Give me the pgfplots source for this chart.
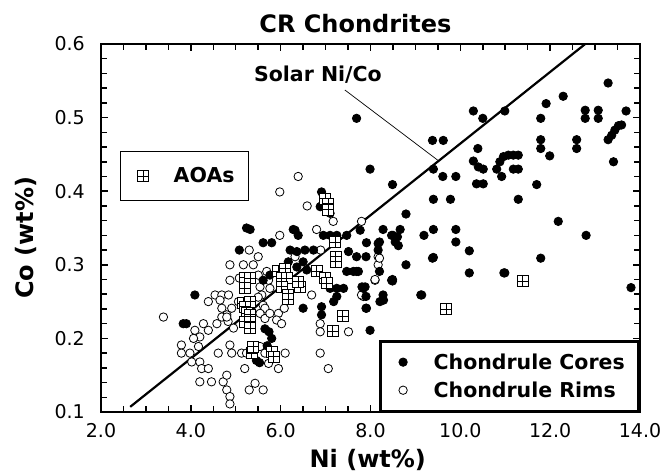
\documentclass[border=0pt]{standalone}
\usepackage{pgfplots}
\pgfplotsset{compat=1.18}
\usepackage{fontspec}
\setmainfont{DejaVu Sans}

\pgfdeclareplotmark{boxplus}{%
  \pgfpathrectangle{\pgfqpoint{-\pgfplotmarksize}{-\pgfplotmarksize}}{\pgfqpoint{2\pgfplotmarksize}{2\pgfplotmarksize}}%
  \pgfusepathqfillstroke
  \pgfpathmoveto{\pgfqpoint{-\pgfplotmarksize}{0pt}}\pgfpathlineto{\pgfqpoint{\pgfplotmarksize}{0pt}}%
  \pgfpathmoveto{\pgfqpoint{0pt}{-\pgfplotmarksize}}\pgfpathlineto{\pgfqpoint{0pt}{\pgfplotmarksize}}%
  \pgfusepathqstroke}

\pgfplotsset{
  crbase/.style={
    scale only axis, width=539pt, height=368pt,
    xmin=2, xmax=14, ymin=0.1, ymax=0.6,
    legend image code/.code={%
      \path[draw=none, fill=none] (0cm,-0.1cm) rectangle (0.6cm,0.1cm);
      \draw plot coordinates {(0.3cm,0cm)};},
  }
}

\pgfplotstableread{
x y
6.39 0.420
5.98 0.399
6.59 0.380
7.17 0.359
6.80 0.348
7.80 0.359
5.98 0.340
5.30 0.320
6.89 0.320
8.17 0.311
4.87 0.300
5.17 0.300
5.39 0.300
5.50 0.311
6.32 0.311
8.17 0.300
8.10 0.279
5.08 0.282
4.87 0.279
6.69 0.259
4.39 0.250
4.54 0.259
4.69 0.259
4.84 0.259
4.65 0.252
4.69 0.241
5.06 0.250
4.91 0.241
4.80 0.232
4.83 0.223
4.95 0.214
5.50 0.286
5.69 0.291
5.73 0.279
5.54 0.270
5.76 0.268
5.58 0.259
5.50 0.256
5.61 0.245
5.65 0.241
5.54 0.234
5.65 0.227
5.76 0.234
5.95 0.234
5.91 0.225
6.02 0.220
6.08 0.241
6.88 0.220
6.88 0.209
7.51 0.209
7.84 0.257
3.39 0.229
4.09 0.211
4.28 0.220
4.39 0.211
4.58 0.220
4.69 0.229
4.80 0.229
4.20 0.202
4.06 0.200
4.17 0.189
3.79 0.191
3.79 0.180
3.98 0.180
4.02 0.168
4.20 0.168
4.24 0.159
4.39 0.159
4.61 0.180
4.87 0.191
4.91 0.180
5.13 0.180
5.24 0.180
5.54 0.189
5.65 0.180
5.73 0.166
5.95 0.159
6.10 0.180
5.20 0.159
4.20 0.141
4.46 0.141
4.72 0.141
4.80 0.150
4.80 0.130
4.87 0.121
4.87 0.111
5.30 0.130
5.43 0.139
5.61 0.130
6.88 0.180
7.06 0.159
8.20 0.309
7.80 0.259
8.10 0.280
}\rims

\pgfplotstableread{
x y
7.69 0.499
7.99 0.430
8.49 0.409
8.79 0.369
9.38 0.469
9.62 0.469
9.40 0.430
9.61 0.420
9.90 0.420
9.40 0.389
9.78 0.389
10.29 0.509
10.50 0.499
10.99 0.509
10.39 0.458
10.29 0.441
10.40 0.433
10.51 0.430
10.36 0.410
10.51 0.410
10.81 0.430
10.92 0.420
10.88 0.440
10.96 0.447
11.07 0.449
11.18 0.449
11.29 0.449
11.18 0.430
11.29 0.430
11.29 0.389
11.70 0.409
11.79 0.499
11.91 0.519
12.29 0.529
11.79 0.470
11.79 0.458
11.99 0.448
12.18 0.359
12.59 0.470
12.59 0.458
12.78 0.510
12.78 0.499
13.07 0.510
13.07 0.499
13.29 0.547
13.69 0.509
13.29 0.470
13.37 0.476
13.44 0.483
13.52 0.489
13.59 0.490
13.41 0.440
12.80 0.340
13.80 0.269
9.38 0.309
10.20 0.319
10.20 0.289
10.99 0.289
11.79 0.309
9.14 0.259
9.90 0.348
9.90 0.331
9.19 0.340
9.40 0.348
8.79 0.300
8.49 0.280
8.66 0.348
8.60 0.338
8.55 0.331
8.62 0.326
8.50 0.340
8.28 0.348
8.20 0.331
7.91 0.330
7.77 0.347
7.69 0.311
7.90 0.311
7.69 0.291
7.62 0.291
8.20 0.291
7.88 0.270
7.81 0.270
8.28 0.259
8.21 0.250
7.99 0.211
7.90 0.241
6.88 0.379
6.91 0.399
6.91 0.380
7.10 0.370
5.24 0.350
5.32 0.348
6.32 0.347
6.39 0.340
6.28 0.348
6.95 0.340
7.10 0.340
7.25 0.340
7.47 0.340
8.47 0.340
5.61 0.330
5.80 0.330
5.08 0.320
6.21 0.320
6.36 0.318
6.54 0.320
6.73 0.320
7.51 0.318
8.17 0.329
8.17 0.320
6.58 0.293
7.47 0.291
7.73 0.291
8.47 0.279
7.84 0.268
7.90 0.257
8.29 0.252
7.25 0.268
7.40 0.268
7.25 0.257
7.18 0.250
4.09 0.259
6.50 0.241
6.91 0.243
6.91 0.232
7.91 0.241
3.83 0.220
3.90 0.220
5.65 0.213
5.74 0.209
5.80 0.200
5.70 0.190
5.46 0.170
5.53 0.167
6.17 0.304
6.36 0.297
6.50 0.304
5.61 0.279
5.76 0.286
7.10 0.268
9.12 0.259
10.97 0.289
8.49 0.278
9.40 0.310
}\cores

\pgfplotstableread{
x y
6.99 0.390
7.06 0.383
7.06 0.375
7.21 0.331
7.23 0.311
7.23 0.304
6.80 0.291
6.99 0.282
7.02 0.275
5.20 0.282
5.20 0.275
5.32 0.282
5.20 0.268
5.95 0.291
6.10 0.295
6.02 0.282
6.13 0.282
6.02 0.270
6.43 0.270
6.39 0.277
6.17 0.259
6.17 0.253
5.17 0.248
5.32 0.250
5.21 0.243
5.24 0.234
5.32 0.232
5.21 0.223
5.32 0.223
5.32 0.214
5.35 0.180
5.39 0.189
5.80 0.182
5.84 0.175
7.38 0.230
7.16 0.210
9.69 0.240
11.39 0.278
}\aoas

\begin{document}
\begin{tikzpicture}
\path[draw=none, fill=none] (-101pt,-63pt) rectangle (564pt,412pt);
\begin{axis}[crbase, hide axis,
  legend cell align=left,
  legend style={at={(0.0353,0.709)}, anchor=north west, draw=black, line width=1.3pt,
    inner xsep=14pt, inner ysep=16pt, column sep=22pt,
    nodes={inner sep=0pt},
    font=\fontsize{20.5}{20.5}\selectfont\bfseries},
]
\addplot[black, line width=2.2pt, forget plot] coordinates {(2.65,0.107) (12.78,0.6)};
\addplot[black, line width=0.7pt, forget plot] coordinates {(7.43,0.5375) (9.50,0.442)};
\node[font=\fontsize{20.5}{20.5}\selectfont\bfseries] at (axis cs:6.83,0.558) {Solar Ni/Co};
\addplot[only marks, mark=*, mark size=4.2pt, mark options={fill=white, draw=black, line width=0.8pt}, forget plot] table {\rims};
\addplot[only marks, mark=*, mark size=4.2pt, mark options={fill=black, draw=black, line width=0.8pt}, forget plot] table {\cores};
\addplot[only marks, mark=boxplus, mark size=5.5pt, mark options={fill=white, draw=black, line width=0.9pt}] table {\aoas};
\addlegendentry{AOAs}
\end{axis}
\begin{axis}[crbase,
  axis line style={line width=1.6pt},
  xtick={2,4,6,8,10,12,14}, ytick={0.1,0.2,0.3,0.4,0.5,0.6},
  minor x tick num=3, minor y tick num=4,
  major tick length=7pt, minor tick length=6pt,
  major tick style={black, line width=1.5pt},
  minor tick style={black, line width=1.5pt},
  ticklabel style={font=\fontsize{19}{19}\selectfont, inner sep=0pt},
  xticklabel style={yshift=-11pt},
  yticklabel style={xshift=-16pt},
  xticklabel={\pgfmathprintnumber[fixed,fixed zerofill,precision=1,assume math mode=true]{\tick}},
  yticklabel={\pgfmathprintnumber[fixed,fixed zerofill,precision=1,assume math mode=true]{\tick}},
  title={CR Chondrites},
  title style={font=\fontsize{24}{24}\selectfont\bfseries, at={(axis description cs:0.472,1.0163)}, anchor=base, inner sep=0pt},
  xlabel={Ni (wt\%)},
  xlabel style={font=\fontsize{24}{24}\selectfont\bfseries, at={(axis description cs:0.495,-0.152)}, anchor=base, inner sep=0pt},
  ylabel={Co (wt\%)},
  ylabel style={font=\fontsize{24}{24}\selectfont\bfseries, at={(axis description cs:-0.126,0.473)}, anchor=base, inner sep=0pt},
  reverse legend,
  legend cell align=left,
  legend style={at={(1,0)}, anchor=south east, draw=black, line width=2.5pt,
    inner xsep=14pt, inner ysep=12pt, row sep=11pt, column sep=22pt,
    nodes={inner sep=0pt},
    font=\fontsize{20.5}{20.5}\selectfont\bfseries},
]
\addlegendimage{only marks, mark=*, mark size=4.2pt, mark options={fill=white, draw=black, line width=0.8pt}}
\addlegendentry{Chondrule Rims}
\addlegendimage{only marks, mark=*, mark size=4.2pt, mark options={fill=black, draw=black, line width=0.8pt}}
\addlegendentry{Chondrule Cores}
\end{axis}
\end{tikzpicture}
\end{document}
